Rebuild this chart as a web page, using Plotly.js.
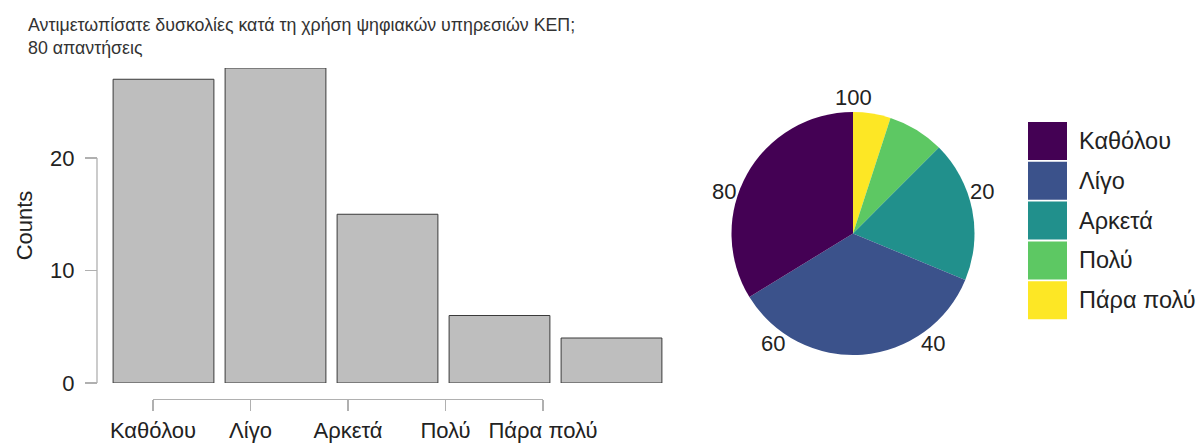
<!DOCTYPE html>
<html>
<head>
<meta charset="utf-8">
<script src="https://cdn.plot.ly/plotly-3.0.1.min.js"></script>
<style>html,body{margin:0;padding:0;background:#fff;} #chart{width:1200px;height:443px;}</style>
</head>
<body>
<div id="chart"></div>
<script>
// ---- data ----
const categories = ["Καθόλου", "Λίγο", "Αρκετά", "Πολύ", "Πάρα πολύ"];
const counts = [27, 28, 15, 6, 4];
const pieColors = ["#440154", "#3B528B", "#21908C", "#5DC863", "#FDE725"];
const yTickVals = [0, 10, 20];
const pieScaleTicks = [100, 20, 40, 60, 80];
const titleLines = ["Αντιμετωπίσατε δυσκολίες κατά τη χρήση ψηφιακών υπηρεσιών ΚΕΠ;", "80 απαντήσεις"];

// ---- layout helpers (pixel -> paper) ----
const W = 1200, H = 443;
const px = x => x / W;
const py = y => 1 - y / H;
const FONT = "Liberation Sans, Arial, Helvetica, sans-serif";
const TXT = "#222";
const idx = categories.map((c, i) => i);

const barTrace = {
  type: "bar",
  x: idx,
  y: counts,
  xaxis: "x",
  yaxis: "y",
  marker: { color: "#BEBEBE", line: { color: "#3a3a3a", width: 1 } },
  hovertemplate: "%{y}<extra></extra>",
  showlegend: false
};

// invisible carrier so the offset category-label axis gets drawn
const labelAxisTrace = {
  type: "scatter", mode: "markers",
  x: idx, y: idx.map(() => 0),
  xaxis: "x2", yaxis: "y2",
  marker: { opacity: 0 }, hoverinfo: "skip", showlegend: false
};

// pie drawn clockwise from 12 o'clock in reversed order (Πάρα πολύ first)
const pieTrace = {
  type: "pie",
  labels: categories.slice().reverse(),
  values: counts.slice().reverse(),
  sort: false,
  direction: "clockwise",
  rotation: 0,
  textinfo: "none",
  marker: { colors: pieColors.slice().reverse(), line: { width: 0 } },
  domain: { x: [px(730), px(976)], y: [py(355), py(112)] },
  showlegend: false
};

const annotations = [];
const shapes = [];

// title
annotations.push({
  xref: "paper", yref: "paper", x: px(26), y: py(13), xanchor: "left", yanchor: "top",
  align: "left", showarrow: false,
  text: titleLines.join("<br>"),
  font: { family: FONT, size: 17.8, color: "#333" }
});

// y axis range-frame line
shapes.push({ type: "line", xref: "paper", yref: "y", x0: px(97), x1: px(97),
  y0: yTickVals[0], y1: yTickVals[yTickVals.length - 1], line: { color: "#b0b0b0", width: 1.3 } });

// pie scale labels
const cx = 853, cy = 233.5, rLab = 136;
pieScaleTicks.forEach(t => {
  const ang = ((t % 100) / 100) * 2 * Math.PI;
  annotations.push({
    xref: "paper", yref: "paper",
    x: px(cx + rLab * Math.sin(ang)), y: py(cy - rLab * Math.cos(ang)),
    xanchor: "center", yanchor: "middle", showarrow: false,
    text: String(t), font: { family: FONT, size: 22, color: TXT }
  });
});

// custom legend
const legX0 = 1028, legX1 = 1067, legY0 = 122, legStep = 39.8, legSize = 38;
categories.forEach((c, i) => {
  const y0 = legY0 + i * legStep;
  shapes.push({ type: "rect", xref: "paper", yref: "paper",
    x0: px(legX0), x1: px(legX1), y0: py(y0 + legSize), y1: py(y0),
    fillcolor: pieColors[i], line: { width: 0 } });
  annotations.push({ xref: "paper", yref: "paper", x: px(1077), y: py(y0 + legSize / 2),
    xanchor: "left", yanchor: "middle", showarrow: false, text: c,
    font: { family: FONT, size: 23.5, color: TXT } });
});

const layout = {
  width: W, height: H,
  margin: { l: 0, r: 0, t: 0, b: 0, pad: 0 },
  paper_bgcolor: "#fff", plot_bgcolor: "rgba(0,0,0,0)",
  font: { family: FONT, size: 22, color: TXT },
  bargap: 0.1,
  xaxis: {
    domain: [px(107.5), px(667.5)], range: [-0.5, 4.5],
    visible: false, fixedrange: true
  },
  yaxis: {
    domain: [py(383), py(68)], range: [0, 28],
    anchor: "free", position: px(97),
    showgrid: false, zeroline: false, showline: false,
    tickmode: "array", tickvals: yTickVals,
    ticks: "outside", ticklen: 12, tickcolor: "#b0b0b0", tickwidth: 1.3,
    tickfont: { family: FONT, size: 22, color: TXT },
    ticklabelstandoff: 6,
    title: { text: "Counts", standoff: 10, font: { family: FONT, size: 22, color: TXT } },
    fixedrange: true
  },
  // label axis for the categories (offset range frame, as in the reference)
  xaxis2: {
    domain: [px(153), px(543)], range: [0, 4],
    anchor: "y2",
    showgrid: false, zeroline: false,
    showline: true, linecolor: "#b0b0b0", linewidth: 1.3,
    tickmode: "array", tickvals: idx, ticktext: categories,
    ticks: "outside", ticklen: 11, tickcolor: "#b0b0b0", tickwidth: 1.3,
    tickfont: { family: FONT, size: 22, color: TXT },
    fixedrange: true
  },
  yaxis2: {
    domain: [py(399), py(390)], range: [0, 1],
    anchor: "x2", visible: false, fixedrange: true
  },
  shapes: shapes,
  annotations: annotations
};

Plotly.newPlot("chart", [barTrace, labelAxisTrace, pieTrace], layout, { displayModeBar: false, staticPlot: true });
</script>
</body>
</html>
